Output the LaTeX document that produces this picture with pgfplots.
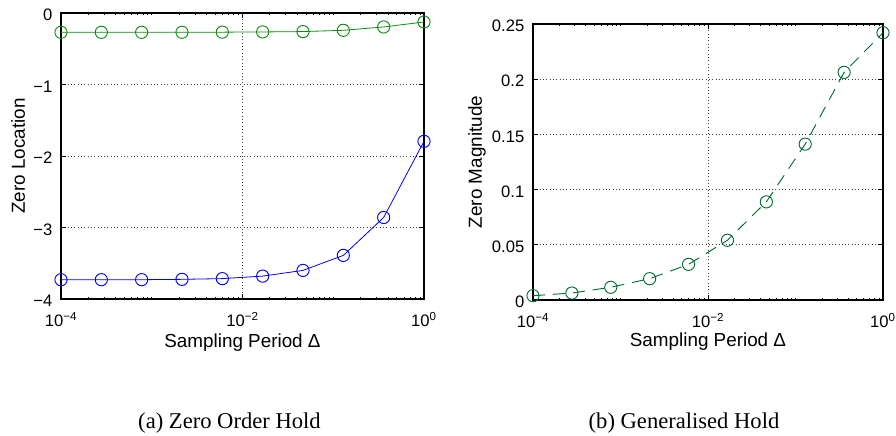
\documentclass[border=0pt]{standalone}
\usepackage{fontspec}
\setmainfont{Liberation Serif}
\newfontfamily\helv{Liberation Sans}
\usepackage{pgfplots}
\usepackage{pgfplotstable}
\pgfplotsset{compat=1.18}

% zero locations of the sampled model, zero order hold
\pgfplotstableread{
dt          zA       zB
1.0000e-4  -0.270   -3.730
2.7826e-4  -0.270   -3.730
7.7426e-4  -0.270   -3.730
2.1544e-3  -0.270   -3.725
5.9948e-3  -0.268   -3.715
1.6681e-2  -0.265   -3.680
4.6416e-2  -0.260   -3.600
1.2915e-1  -0.242   -3.390
3.5938e-1  -0.195   -2.860
1.0000e0   -0.126   -1.795
}\zoh

% zero magnitude, generalised hold
\pgfplotstableread{
dt          mag
1.0000e-4   0.0039
2.7826e-4   0.0063
7.7426e-4   0.0115
2.1544e-3   0.0193
5.9948e-3   0.0323
1.6681e-2   0.0541
4.6416e-2   0.0889
1.2915e-1   0.1412
3.5938e-1   0.2062
1.0000e0    0.2421
}\gh

\definecolor{zgreen}{rgb}{0.05,0.55,0.05}
\definecolor{zblue}{rgb}{0,0,1}
\definecolor{ghgreen}{rgb}{0,0.42,0.2}

\begin{document}
\begin{tikzpicture}
\path[use as bounding box] (0,0) rectangle (672bp,327bp);

\begin{axis}[
  scale only axis,
  at={(45.75bp,102.75bp)}, anchor=south west,
  width=272.25bp, height=214.5bp,
  xmode=log,
  xmin=1e-4, xmax=1,
  xtick={1e-4,1e-2,1},
  xticklabels={10\textsuperscript{−4},10\textsuperscript{−2},10\textsuperscript{0}},
  minor xtick={2e-4,3e-4,4e-4,5e-4,6e-4,7e-4,8e-4,9e-4,
               1e-3,2e-3,3e-3,4e-3,5e-3,6e-3,7e-3,8e-3,9e-3,
               2e-2,3e-2,4e-2,5e-2,6e-2,7e-2,8e-2,9e-2,
               1e-1,2e-1,3e-1,4e-1,5e-1,6e-1,7e-1,8e-1,9e-1},
  ymin=-4, ymax=0,
  ytick={-4,-3,-2,-1,0},
  yticklabels={−4,−3,−2,−1,0},
  font=\helv\fontsize{12.5}{14}\selectfont,
  xticklabel style={yshift=-6.5bp},
  yticklabel style={xshift=-3bp, yshift=-1.5bp},
  tick align=inside,
  major tick length=3.5pt,
  minor tick length=1.8pt,
  every tick/.style={black, line width=0.5pt},
  axis line style={black, line width=0.8pt},
  grid=major,
  major grid style={black!75, line width=0.5pt, dotted},
  xlabel={Sampling Period Δ},
  ylabel={Zero Location},
  label style={font=\helv\fontsize{14.2}{16}\selectfont},
  xlabel style={at={(axis description cs:0.5,-0.168)}, anchor=base},
  ylabel style={at={(axis description cs:-0.118,0.5)}, anchor=center},
]
\addplot[zgreen, line width=0.6pt, mark=o, mark size=4.6pt, mark options={line width=0.7pt}] table[x=dt, y=zA] {\zoh};
\addplot[zblue, line width=0.6pt, mark=o, mark size=4.6pt, mark options={line width=0.7pt}] table[x=dt, y=zB] {\zoh};
\end{axis}

\begin{axis}[
  scale only axis,
  at={(399.75bp,102bp)}, anchor=south west,
  width=262.5bp, height=207bp,
  xmode=log,
  xmin=1e-4, xmax=1,
  xtick={1e-4,1e-2,1},
  xticklabels={10\textsuperscript{−4},10\textsuperscript{−2},10\textsuperscript{0}},
  minor xtick={2e-4,3e-4,4e-4,5e-4,6e-4,7e-4,8e-4,9e-4,
               1e-3,2e-3,3e-3,4e-3,5e-3,6e-3,7e-3,8e-3,9e-3,
               2e-2,3e-2,4e-2,5e-2,6e-2,7e-2,8e-2,9e-2,
               1e-1,2e-1,3e-1,4e-1,5e-1,6e-1,7e-1,8e-1,9e-1},
  ymin=0, ymax=0.25,
  ytick={0,0.05,0.1,0.15,0.2,0.25},
  yticklabels={0,0.05,0.1,0.15,0.2,0.25},
  font=\helv\fontsize{12.5}{14}\selectfont,
  xticklabel style={yshift=-6.5bp},
  yticklabel style={xshift=-3bp, yshift=-1.5bp},
  tick align=inside,
  major tick length=3.5pt,
  minor tick length=1.8pt,
  every tick/.style={black, line width=0.5pt},
  axis line style={black, line width=0.8pt},
  grid=major,
  major grid style={black!75, line width=0.5pt, dotted},
  xlabel={Sampling Period Δ},
  ylabel={Zero Magnitude},
  label style={font=\helv\fontsize{14.2}{16}\selectfont},
  xlabel style={at={(axis description cs:0.5,-0.170)}, anchor=base},
  ylabel style={at={(axis description cs:-0.16,0.5)}, anchor=center},
]
\addplot[ghgreen, line width=0.7pt, dash pattern=on 9bp off 6bp, mark=o, mark size=4.6pt,
  mark options={solid, line width=0.7pt}] table[x=dt, y=mag] {\gh};
\end{axis}

\node[font=\fontsize{17}{19}\selectfont] at (172.1bp,9.5bp) {(a) Zero Order Hold};
\node[font=\fontsize{17}{19}\selectfont] at (513bp,9.5bp) {(b) Generalised Hold};
\end{tikzpicture}
\end{document}
